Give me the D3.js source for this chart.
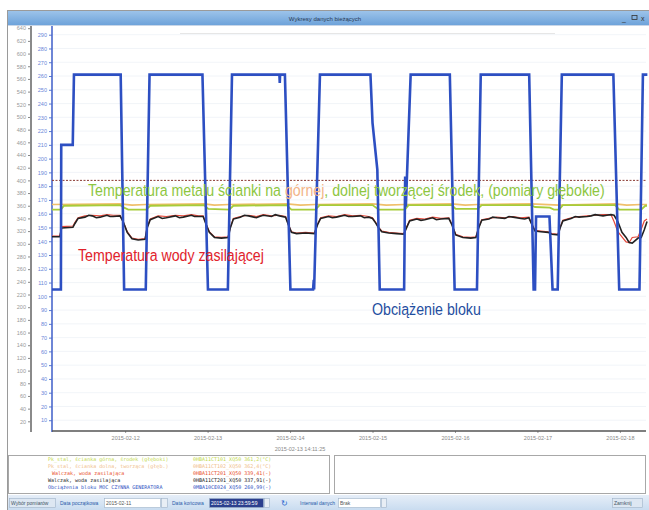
<!DOCTYPE html>
<html><head><meta charset="utf-8">
<script src="https://cdn.jsdelivr.net/npm/d3@7"></script>
<style>
html,body{margin:0;padding:0;background:#fff;}
svg{display:block;}
text{font-family:"Liberation Sans",Arial,sans-serif;}
.mono{font-family:"DejaVu Sans Mono","Liberation Mono",monospace;}
</style></head>
<body>
<svg id="c" width="649" height="510"></svg>
<script>
// ---------- DATA (hours since 2015-02-11 00:00) ----------
const dayTicks = ["2015-02-12","2015-02-13","2015-02-14","2015-02-15","2015-02-16","2015-02-17","2015-02-18"];
const windowTitle = "Wykresy danych bieżących";
const cursorLabel = "2015-02-13 14:11:25";

// Obciążenie bloku (MW) - inner blue axis
const loadT = [2.7,5.3,5.4,8.75,9.1,22.7,23.7,30.0,31.1,46.5,48.1,53.9,55.1,68.9,69.0,69.1,70.5,72.1,78.7,78.9,79.0,
  80.7,95.4,96.0,97.4,98.1,104.7,105.2,105.5,105.7,107.1,118.5,119.9,126.4,127.5,141.6,142.9,143.3,143.6,147.5,148.4,
  149.9,151.1,166.1,167.8,173.7,174.7,176.0];
const loadV = [105,105,210,210,261,261,105,105,261,261,105,105,261,261,255,261,261,105,105,112,105,
  261,261,226,192,105,105,105,187,165,261,261,105,105,261,261,105,105,158,158,105,
  105,261,261,105,105,261,261];

// Walczak, woda zasilająca (black) - outer axis
const feedT = [2.7,5.0,5.5,8.8,9.4,10.3,12.3,13.4,14.4,15.6,16.7,18.7,19.6,20.5,22.5,23.4,24.6,26.0,27.8,29.8,30.4,31.3,33.6,34.8,36.0,
  38.6,39.8,40.9,43.3,44.2,45.3,46.7,47.6,48.5,50.0,52.0,54.0,54.6,55.5,57.5,58.7,59.9,62.2,63.1,64.2,66.6,67.7,68.9,70.7,71.5,72.4,
  73.9,76.5,79.1,80.0,80.9,83.2,84.3,85.5,87.9,89.0,90.2,92.5,93.6,94.9,96.0,96.9,97.8,98.7,100.7,103.0,105.1,105.9,106.8,
  108.9,110.1,111.2,113.5,114.6,115.9,118.2,119.1,120.2,122.3,124.6,126.1,126.9,127.8,129.9,131.0,132.2,134.5,135.7,136.9,139.2,140.3,141.5,
  142.4,143.3,145.0,147.1,148.2,150.0,150.6,151.4,153.8,155.0,156.1,158.5,159.6,160.8,163.1,164.2,165.4,166.3,167.4,168.6,169.8,
  170.7,171.6,173.3,174.2,175.1,175.9];
const feedV = [311,311,325,326,332,340,342,345,344,341,342,345,343,343,344,335,318,308,306,307,325,338,343,340,341,
  344,341,342,345,343,343,343,330,318,310,309,310,325,339,342,345,344,341,343,345,343,346,344,342,330,318,
  316,317,316,330,340,343,341,342,345,343,343,344,341,342,340,333,325,319,317,316,315,325,336,
  339,337,338,341,338,339,340,330,314,310,309,310,325,337,339,342,341,340,343,342,340,339,341,
  330,320,319,318,315,314,325,336,340,343,342,343,344,346,344,345,346,345,335,318,310,302,
  301,309,310,322,335,338];

// Walczak, woda zasilająca (red) - outer axis
const feedRedT = [2.7,5.0,5.5,8.8,9.4,10.3,12.3,14.4,16.7,18.7,20.5,22.5,23.4,24.6,26.0,27.8,29.8,30.4,31.3,33.6,36.0,38.6,40.9,43.3,
  45.3,46.7,47.6,48.5,50.0,52.0,54.0,54.6,55.5,57.5,59.9,62.2,64.2,66.6,68.9,70.7,71.5,72.4,73.9,76.5,79.1,80.0,80.9,83.2,85.5,87.9,
  90.2,92.5,94.9,96.0,96.9,97.8,98.7,100.7,103.0,105.1,105.9,106.8,108.9,111.2,113.5,115.9,118.2,119.1,120.2,122.3,124.6,126.1,126.9,
  127.8,129.9,132.2,134.5,136.9,139.2,141.5,142.4,143.3,145.0,147.1,148.2,150.0,150.6,151.4,153.8,156.1,158.5,160.8,163.1,165.4,166.3,
  167.4,168.6,169.8,170.7,171.6,173.3,174.2,175.1,175.9];
const feedRedV = [312,312,327,328,334,341,344,345,344,346,345,345,335,319,309,307,308,326,339,344,343,345,344,346,
  344,344,331,319,311,310,311,326,340,343,345,343,346,344,345,343,331,319,317,318,317,331,341,344,343,346,
  344,345,343,341,334,326,320,318,317,316,326,337,340,339,342,340,341,331,315,311,310,311,326,
  338,340,342,341,343,341,342,331,321,320,319,316,315,326,337,341,343,344,345,346,346,335,
  319,311,303,302,310,311,323,336,339];

// Temperatura metalu ścianki (green) - outer axis
const metalT = [2.7,5.3,6.2,22.5,23.7,24.9,30.1,31.3,47.0,48.2,54.3,55.5,71.0,72.4,79.4,80.6,96.0,97.8,105.4,106.5,
  119.1,120.2,126.6,127.8,142.1,143.3,147.6,148.8,150.3,151.4,166.6,167.8,174.2,175.4,175.9];
const metalV = [354,354,360,361,357,354,354,360,361,355,354,360,361,354,354,361,361,354,354,361,
  361,355,355,361,361,358,357,354,354,361,361,354,354,360,360];

// Temperatura metalu ścianki (orange) - outer axis
const metal2T = [2.7,22.5,26.0,30.1,47.0,50.0,54.3,71.0,75.0,79.4,96.0,100.0,105.4,119.1,123.0,126.6,142.1,150.3,166.6,170.0,174.2,175.9];
const metal2V = [362,363,361,362,363,361,362,363,361,362,363,361,362,363,361,362,363,361,363,361,362,362];

// limit (dashed)
const limitValue = [400];

// legend rows
const legendNames = ["Pk_stal, ścianka górna, środek (głęboki)","Pk_stal, ścianka dolna, tworząca (głęb.)","Walczak, woda zasilająca","Walczak, woda zasilająca","Obciążenia bloku MOC CZYNNA GENERATORA"];
const legendTags = ["0HBA11CT101_XQ50 361,2(°C)","0HBA11CT102_XQ50 362,4(°C)","0HBA11CT201_XQ50 339,41(-)","0HBA11CT201_XQ50 337,91(-)","0MBA10CE024_XQ50 260,99(-)"];

// ---------- DRAW ----------
const svg = d3.select("#c");
const base = new Date(2015,1,11,0,0,0).getTime();
const toDate = h => new Date(base + h*3600000);

const L=52, R=646, T=26, B=431;
const x = d3.scaleTime().domain([toDate(2.71), toDate(175.6)]).range([L, R]);
const yIn = d3.scaleLinear().domain([0,290]).range([434, 34.7]);
const yOut = d3.scaleLinear().domain([0,640]).range([434, 28.2]);

// window frame
svg.append("rect").attr("x",0).attr("y",0).attr("width",649).attr("height",510).attr("fill","#fff");
svg.append("line").attr("x1",7).attr("x2",649).attr("y1",10.5).attr("y2",10.5).attr("stroke","#9a9a9a");
svg.append("line").attr("x1",7.5).attr("x2",7.5).attr("y1",10).attr("y2",510).attr("stroke","#9a9a9a");
const tg = svg.append("defs").append("linearGradient").attr("id","tb").attr("x1",0).attr("x2",0).attr("y1",0).attr("y2",1);
tg.append("stop").attr("offset","0").attr("stop-color","#9cc3ea");
tg.append("stop").attr("offset","1").attr("stop-color","#6ea3da");
svg.append("rect").attr("x",8).attr("y",11).attr("width",641).attr("height",14).attr("fill","url(#tb)");
svg.append("text").attr("x",325).attr("y",20.5).attr("text-anchor","middle").attr("font-size",6).attr("fill","#2a3a55").text(windowTitle);
svg.append("text").attr("x",622).attr("y",21).attr("font-size",7).attr("fill","#333").text("_");
svg.append("rect").attr("x",632).attr("y",15.5).attr("width",5).attr("height",4).attr("fill","none").attr("stroke","#333").attr("stroke-width",0.8);
svg.append("text").attr("x",641).attr("y",21).attr("font-size",7).attr("fill","#333").text("x");
svg.append("line").attr("x1",8).attr("x2",649).attr("y1",25.5).attr("y2",25.5).attr("stroke","#c8d6e8");

// gridlines
const grid = svg.append("g");
grid.selectAll("line.h").data(d3.range(10,300,10)).join("line")
  .attr("x1",L).attr("x2",R).attr("y1",d=>yIn(d)).attr("y2",d=>yIn(d))
  .attr("stroke","#eef1f6").attr("stroke-width",0.8);
grid.append("line").attr("x1",180).attr("x2",555).attr("y1",33.5).attr("y2",33.5).attr("stroke","#e6e6e6");

// axes
const outerAx = svg.append("g").attr("transform","translate(31,0)")
  .call(d3.axisLeft(yOut).tickValues(d3.range(20,660,20)).tickSize(3).tickPadding(2));
outerAx.select(".domain").remove();
outerAx.selectAll("line").attr("stroke","#888");
outerAx.selectAll("text").attr("font-size",5.5).attr("fill","#999").attr("font-family","Liberation Sans, Arial");
svg.append("line").attr("x1",31).attr("x2",31).attr("y1",26).attr("y2",432).attr("stroke","#8a8a8a").attr("stroke-width",2);

const innerAx = svg.append("g").attr("transform",`translate(${L},0)`)
  .call(d3.axisLeft(yIn).tickValues(d3.range(10,300,10)).tickSize(3).tickPadding(2));
innerAx.select(".domain").remove();
innerAx.selectAll("line").attr("stroke","#5a78d0");
innerAx.selectAll("text").attr("font-size",5.5).attr("fill","#6a86d8").attr("font-family","Liberation Sans, Arial");
svg.append("line").attr("x1",L).attr("x2",L).attr("y1",26).attr("y2",432).attr("stroke","#4a68cc").attr("stroke-width",1.6);

const xAx = svg.append("g").attr("transform",`translate(0,${B})`)
  .call(d3.axisBottom(x).tickValues(dayTicks.map(s=>{const p=s.split("-");return new Date(+p[0],+p[1]-1,+p[2]);}))
  .tickFormat(d3.timeFormat("%Y-%m-%d")).tickSize(2).tickPadding(3));
xAx.select(".domain").remove();
xAx.selectAll("line").attr("stroke","#999");
xAx.selectAll("text").attr("font-size",5.5).attr("fill","#888").attr("font-family","Liberation Sans, Arial");
svg.append("line").attr("x1",L).attr("x2",R).attr("y1",B).attr("y2",B).attr("stroke","#555").attr("stroke-width",1.5);
svg.append("text").attr("x",300).attr("y",451).attr("text-anchor","middle").attr("font-size",5.5).attr("fill","#888").text(cursorLabel);

// series
const mk = (T,V) => T.map((t,i)=>[toDate(t),V[i]]);
const lineOut = d3.line().x(d=>x(d[0])).y(d=>yOut(d[1]));
const lineIn = d3.line().x(d=>x(d[0])).y(d=>yIn(d[1]));

svg.append("line").attr("x1",L).attr("x2",R).attr("y1",yOut(limitValue[0])).attr("y2",yOut(limitValue[0]))
  .attr("stroke","#8a3a32").attr("stroke-width",1).attr("stroke-dasharray","2,1.5");
svg.append("path").datum(mk(metal2T,metal2V)).attr("d",lineOut).attr("fill","none").attr("stroke","#f0bf6a").attr("stroke-width",1.6);
svg.append("path").datum(mk(metalT,metalV)).attr("d",lineOut).attr("fill","none").attr("stroke","#a6cc3a").attr("stroke-width",1.8);
svg.append("path").datum(mk(feedRedT,feedRedV)).attr("d",lineOut).attr("fill","none").attr("stroke","#e5483a").attr("stroke-width",1.2);
svg.append("path").datum(mk(feedT,feedV)).attr("d",lineOut).attr("fill","none").attr("stroke","#222").attr("stroke-width",1.6);
svg.append("path").datum(mk(loadT,loadV)).attr("d",lineIn).attr("fill","none").attr("stroke","#2d4fc2").attr("stroke-width",2.6).attr("stroke-linejoin","miter");

// annotations
function fit(sel, x0, w){
  const cw = sel.node().getComputedTextLength();
  sel.attr("transform",`translate(${x0},0) scale(${w/cw},1) translate(${-x0},0)`);
}
const t1 = svg.append("text").attr("x",88).attr("y",196).attr("font-size",16.5).attr("fill","#8dc63f");
t1.append("tspan").text("Temperatura metalu ścianki na ");
t1.append("tspan").attr("fill","#f2b487").text("górnej");
t1.append("tspan").text(", dolnej tworzącej środek, (pomiary głębokie)");
fit(t1,88,517);
const t2 = svg.append("text").attr("x",78).attr("y",261).attr("font-size",16.5).attr("fill","#e1222b").text("Temperatura wody zasilającej");
fit(t2,78,186);
const t3 = svg.append("text").attr("x",372).attr("y",315).attr("font-size",16.5).attr("fill","#1f4ea0").text("Obciążenie bloku");
fit(t3,372,109);

// legend panels
svg.append("rect").attr("x",8.5).attr("y",455.5).attr("width",321).attr("height",38).attr("fill","#fff").attr("stroke","#a8a8a8");
svg.append("rect").attr("x",334.5).attr("y",455.5).attr("width",311).attr("height",38).attr("fill","#fff").attr("stroke","#a8a8a8");
const legColors = ["#c2d94a","#f0c08a","#e8502a","#222","#2d4fc2"];
const legY = [461,467.5,474.5,481.5,488.5];
const legX = [48,48,52,48,48];
legendNames.forEach((n,i)=>{
  svg.append("text").attr("class","mono").attr("x",legX[i]).attr("y",legY[i]).attr("font-size",5).attr("fill",legColors[i]).text(n);
  svg.append("text").attr("class","mono").attr("x",193).attr("y",legY[i]).attr("font-size",5).attr("fill",legColors[i]).text(legendTags[i]);
});

// toolbar
const bg = svg.select("defs").append("linearGradient").attr("id","bb").attr("x1",0).attr("x2",0).attr("y1",0).attr("y2",1);
bg.append("stop").attr("offset","0").attr("stop-color","#e6eef8");
bg.append("stop").attr("offset","1").attr("stop-color","#c9dcf0");
svg.append("rect").attr("x",8).attr("y",495).attr("width",641).attr("height",15).attr("fill","url(#bb)");
const btn = (x0,w,label,fill,tc)=>{
  svg.append("rect").attr("x",x0+0.5).attr("y",498.5).attr("width",w).attr("height",9).attr("fill",fill).attr("stroke","#9fb2c8").attr("stroke-width",0.6);
  if(label) svg.append("text").attr("x",x0+2).attr("y",505).attr("font-size",5).attr("fill",tc).text(label);
};
btn(9,46,"Wybór pomiarów","#dde7f2","#456");
svg.append("text").attr("x",60).attr("y",505).attr("font-size",5).attr("fill","#2a5caa").text("Data początkowa");
btn(104,56,"2015-02-11","#fff","#555");
btn(161,6,"","#e8eef5","#333");
svg.append("text").attr("x",172).attr("y",505).attr("font-size",5).attr("fill","#2a5caa").text("Data końcowa");
btn(209,54,"2015-02-13 23:59:59","#2b3f8e","#fff");
btn(264,5,"","#e8eef5","#333");
svg.append("text").attr("x",281).attr("y",506).attr("font-size",8).attr("fill","#2a6ad0").text("↻");
svg.append("text").attr("x",300).attr("y",505).attr("font-size",5).attr("fill","#2a5caa").text("Interwał danych");
btn(338,42,"Brak","#fff","#555");
btn(381,5,"","#e8eef5","#333");
btn(612,30,"Zamknij","#dde7f2","#456");
</script>
</body></html>
